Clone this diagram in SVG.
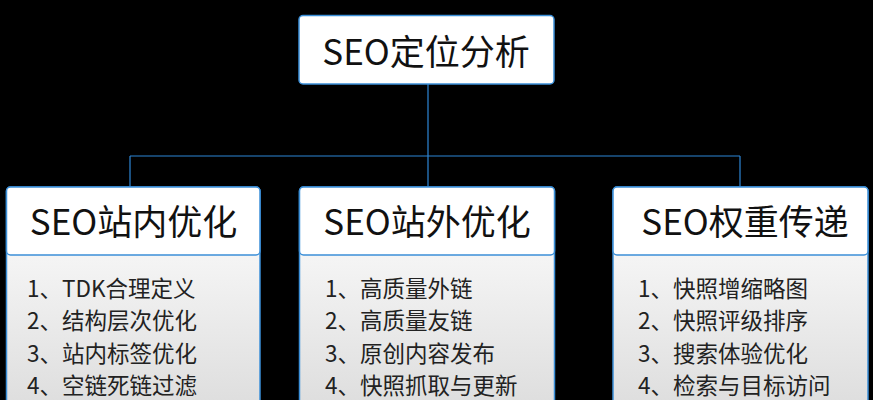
<svg xmlns="http://www.w3.org/2000/svg" width="873" height="400" viewBox="0 0 873 400">
<defs>
<linearGradient id="body" x1="0" y1="0" x2="0" y2="1">
<stop offset="0" stop-color="#ffffff"/>
<stop offset="1" stop-color="#dcdcdc"/>
</linearGradient>
<style>
.box{fill:#ffffff;stroke:#3b8fd8;stroke-width:1.5}
.body{fill:url(#body);stroke:#3b8fd8;stroke-width:1.5}
.head{font-family:"Noto Sans CJK SC","Noto Sans",sans-serif;font-size:35px;fill:#111;text-anchor:middle}
.item{font-family:"Noto Sans CJK SC","Noto Sans",sans-serif;font-size:22.5px;fill:#222}
.conn{stroke:#2d86d6;stroke-width:1.2;fill:none}
</style>
</defs>
<rect width="873" height="400" fill="#000"/>
<g id="connectors">
<path class="conn" d="M428 84V186M130 156H740M130 156V187M740 156V187"/>
</g>
<g id="root">
<rect class="box" x="299" y="15.5" width="255" height="68.5" rx="4"/>
<text class="head" x="426" y="65">SEO定位分析</text>
</g>
<g id="onpage">
<rect class="body" x="6.5" y="187" width="253.5" height="230" rx="4"/>
<rect class="box" x="6.5" y="187" width="253.5" height="68" rx="4"/>
<text class="head" x="133.5" y="235">SEO站内优化</text>
<text class="item" x="27" y="296.5">1、TDK合理定义</text>
<text class="item" x="27" y="329">2、结构层次优化</text>
<text class="item" x="27" y="361.5">3、站内标签优化</text>
<text class="item" x="27" y="394">4、空链死链过滤</text>
</g>
<g id="offpage">
<rect class="body" x="299.5" y="187" width="255" height="230" rx="4"/>
<rect class="box" x="299.5" y="187" width="255" height="68" rx="4"/>
<text class="head" x="427" y="235">SEO站外优化</text>
<text class="item" x="325" y="296.5">1、高质量外链</text>
<text class="item" x="325" y="329">2、高质量友链</text>
<text class="item" x="325" y="361.5">3、原创内容发布</text>
<text class="item" x="325" y="394">4、快照抓取与更新</text>
</g>
<g id="weight">
<rect class="body" x="613" y="187" width="255" height="230" rx="4"/>
<rect class="box" x="613" y="187" width="255" height="68" rx="4"/>
<text class="head" x="745" y="235">SEO权重传递</text>
<text class="item" x="638" y="296.5">1、快照增缩略图</text>
<text class="item" x="638" y="329">2、快照评级排序</text>
<text class="item" x="638" y="361.5">3、搜索体验优化</text>
<text class="item" x="638" y="394">4、检索与目标访问</text>
</g>
</svg>
